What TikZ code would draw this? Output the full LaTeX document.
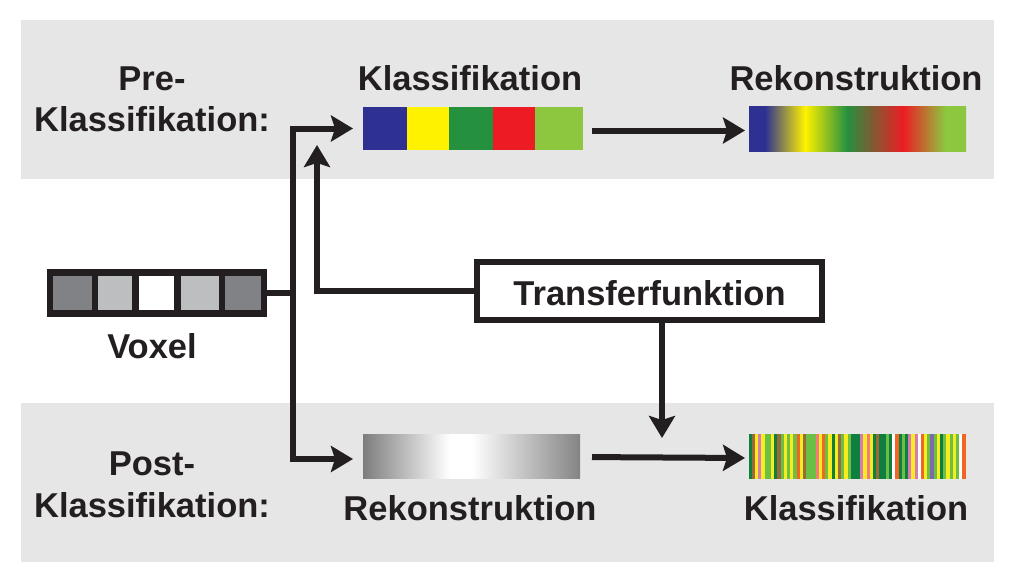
\documentclass[tikz,border=0pt]{standalone}
\usepackage{fontspec}
\setmainfont{Liberation Sans}
\usetikzlibrary{arrows.meta}
\definecolor{ink}{HTML}{231F20}
\definecolor{band}{HTML}{E6E6E6}
\definecolor{cblue}{HTML}{2E3192}
\definecolor{cyellow}{HTML}{FFF200}
\definecolor{cgreen}{HTML}{25903E}
\definecolor{cred}{HTML}{ED1C24}
\definecolor{clgreen}{HTML}{8DC63F}
\definecolor{vdark}{HTML}{808285}
\definecolor{vlight}{HTML}{BCBEC0}
\definecolor{gleft}{HTML}{7D7D7D}
\definecolor{gright}{HTML}{848484}
\definecolor{dg}{HTML}{0F7F3F}
\definecolor{br}{HTML}{9C6A3A}
\definecolor{ye}{HTML}{F7EC1E}
\definecolor{pk}{HTML}{D67BB5}
\definecolor{lg}{HTML}{6DBE45}
\definecolor{or}{HTML}{F26522}
\definecolor{sa}{HTML}{F37B7B}
\definecolor{pu}{HTML}{7C6AAA}
\definecolor{wh}{HTML}{FFFFFF}
\pgfdeclarehorizontalshading{reconshade}{100bp}{color(0bp)=(cblue); color(28.7bp)=(cblue); color(37.9bp)=(cyellow); color(47.6bp)=(cgreen); color(60.5bp)=(cred); color(70.2bp)=(clgreen); color(100bp)=(clgreen)}
\pgfdeclarehorizontalshading{grayshade}{100bp}{color(0bp)=(gleft); color(25bp)=(gleft); color(45bp)=(white); color(50bp)=(white); color(75bp)=(gright); color(100bp)=(gright)}
\begin{document}
\begin{tikzpicture}[x=1pt,y=-1pt,
  lbl/.style={font=\fontsize{34.5}{40}\selectfont\bfseries, text=ink, inner sep=0, anchor=base},
  barnode/.style={inner sep=0, outer sep=0, draw=none},
  arr/.style={draw=ink, line width=6pt, -{Stealth[length=22pt,width=26pt,inset=4pt]}},
  conn/.style={draw=ink, line width=6pt}]
\useasboundingbox (0,0) rectangle (1016,584);
\fill[white] (0,0) rectangle (1016,584);
% bands
\fill[band] (21,20) rectangle (994,179);
\fill[band] (21,403) rectangle (994,562);

% voxel
\fill[ink] (47,269) rectangle (267,317);
\fill[vdark] (53,276) rectangle (92,310);
\fill[vlight] (98,276) rectangle (132,310);
\fill[white] (139,276) rectangle (174,310);
\fill[vlight] (181,276) rectangle (219,310);
\fill[vdark] (225,276) rectangle (261,310);
\node[barnode, minimum width=220pt, minimum height=48pt] (vox) at (157,293) {};

% Klassifikation bar (pre)
\fill[cblue] (363,107) rectangle (407,150);
\fill[cyellow] (407,107) rectangle (449,150);
\fill[cgreen] (449,107) rectangle (493,150);
\fill[cred] (493,107) rectangle (535,150);
\fill[clgreen] (535,107) rectangle (583,150);
\node[barnode, minimum width=220pt, minimum height=43pt] (kbar) at (473,128.5) {};

% Rekonstruktion bar (pre)
\shade[shading=reconshade] (749,106) rectangle (966,151);
\node[barnode, minimum width=217pt, minimum height=45pt] (rbar) at (857.5,128.5) {};

% Rekonstruktion bar (post)
\shade[shading=grayshade] (363,434) rectangle (580,478);
\node[barnode, minimum width=217pt, minimum height=44pt] (gbar) at (471.5,456) {};

% Klassifikation bar (post)
\foreach \a/\b/\c in {27/36/dg,36/45/br,45/54/ye,54/63/pk,63/75/ye,75/93/lg,93/102/ye,102/111/dg,111/123/br,123/132/lg,132/141/ye,141/150/lg,150/159/ye,159/171/lg,171/180/or,180/189/ye,189/198/br,198/228/lg,228/237/sa,237/246/ye,246/255/or,255/264/lg,264/276/ye,276/285/dg,285/294/ye,294/303/br,303/312/lg,312/324/ye,324/333/lg,333/360/dg,360/369/pk,369/381/ye,381/390/sa,390/399/ye,399/408/dg,408/417/br,417/438/dg,438/447/lg,447/456/dg,456/465/wh,465/477/or,477/486/dg,486/495/lg,495/504/dg,504/513/pk,513/525/ye,525/534/pk,534/543/wh,543/552/or,552/561/ye,561/570/lg,570/582/pu,582/591/lg,591/600/ye,600/609/dg,609/618/lg,618/630/ye,630/639/lg,639/648/ye,648/657/lg,657/666/wh,666/678/or}
  \fill[\c] ({740+\a/3},434) rectangle ({740+\b/3+0.2},479);
\node[barnode, minimum width=217pt, minimum height=45pt] (cbar) at (857.5,456.5) {};

% Transferfunktion box
\node[draw=ink, line width=6pt, minimum width=345pt, minimum height=58pt, inner sep=0,
      font=\fontsize{34.5}{40}\selectfont\bfseries, text=ink, text height=28pt, text depth=0pt]
      (tf) at (649.5,291) {Transferfunktion};

% coordinates
\coordinate (split) at (293,293);
\coordinate (tftip) at (317,145);
\coordinate (tfdown) at (662,438);

% connectors
\draw[conn] (vox.east) -- (split);
\draw[arr, shorten >=10pt] (split) |- (kbar.west);
\draw[arr, shorten >=10pt] (split) |- ([yshift=-3pt]gbar.west);
\draw[arr] (tf.west) -| (tftip);
\draw[arr] (tf.south -| tfdown) -- (tfdown);
\draw[arr, shorten <=9pt, shorten >=4pt] ([yshift=-2pt]kbar.east) -- ([yshift=-2pt]rbar.west);
\draw[arr, shorten <=12pt, shorten >=4pt] ([yshift=-1pt]gbar.east) -- ([yshift=-1.5pt]cbar.west);

% labels
\node[lbl] (pre1) at (152,90) {Pre-};
\node[lbl] (pre2) at (152,131) {Klassifikation:};
\node[lbl] (hk) at (470,90) {Klassifikation};
\node[lbl] (hr) at (856,90) {Rekonstruktion};
\node[lbl] (vx) at (152,358) {Voxel};
\node[lbl] (post1) at (152,475) {Post-};
\node[lbl] (post2) at (152,517) {Klassifikation:};
\node[lbl] (br1) at (470,520) {Rekonstruktion};
\node[lbl] (bk) at (856,520) {Klassifikation};
\end{tikzpicture}
\end{document}
